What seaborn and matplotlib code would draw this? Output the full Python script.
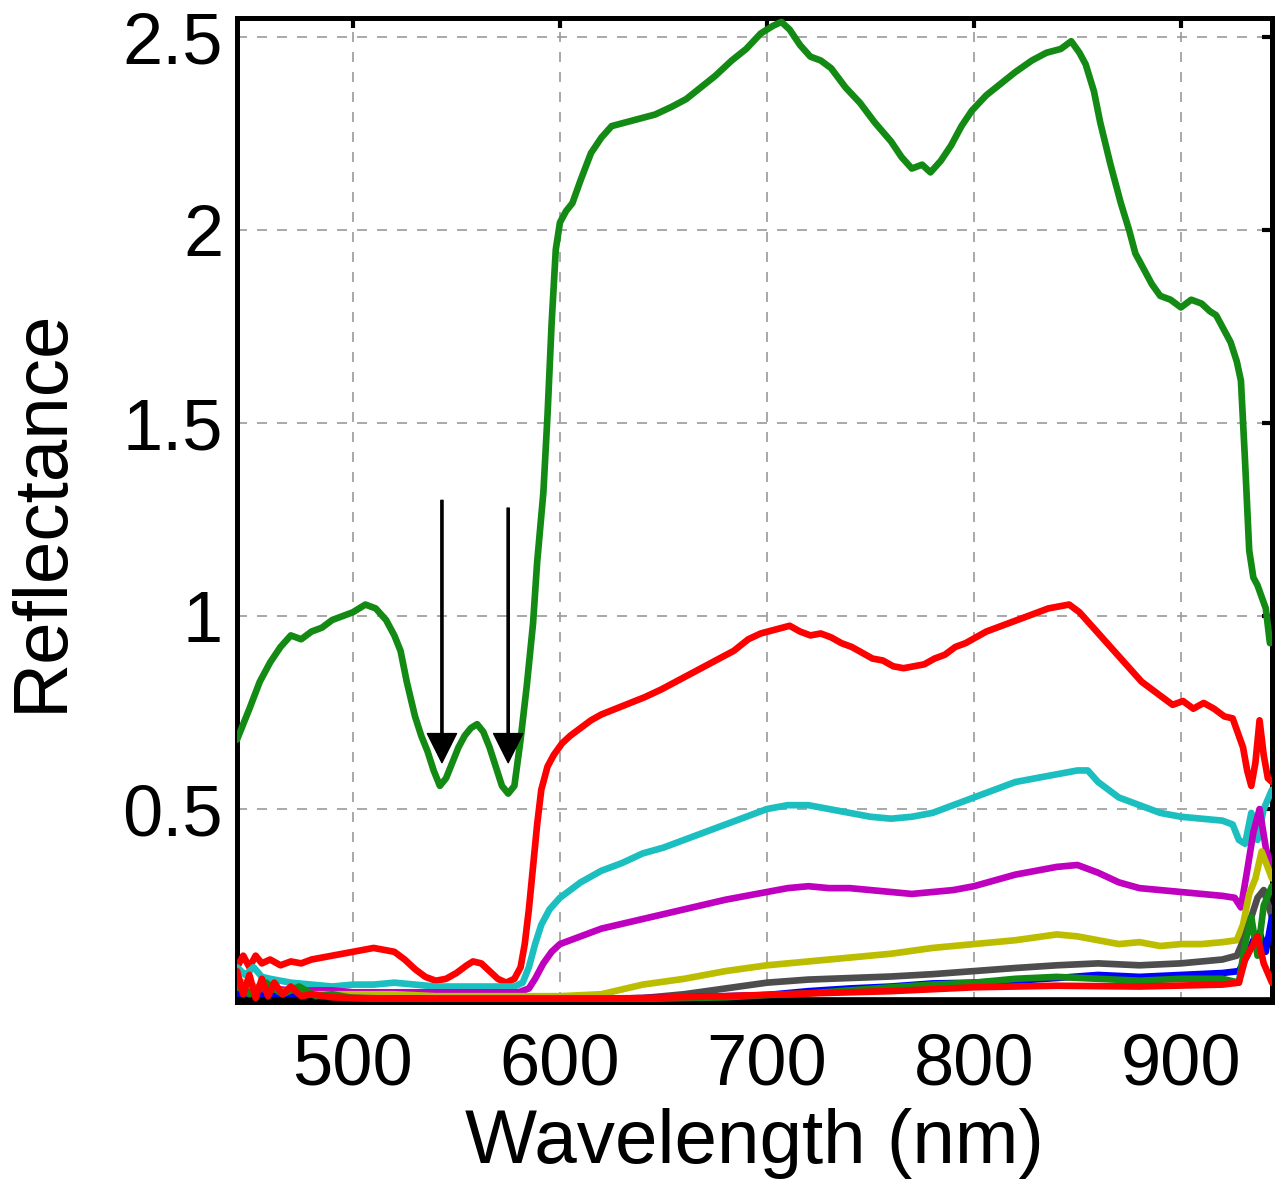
import matplotlib
matplotlib.use("Agg")
import matplotlib.pyplot as plt
import seaborn as sns

# ---- data (wavelength in nm, reflectance) ----
wl_green = [444, 450, 455, 460, 465, 470, 475, 480, 485, 490, 495, 500, 506, 511, 516, 520,
            523, 526, 530, 533, 536, 539, 542, 545, 548, 551, 554, 557, 560, 563, 566, 569,
            572, 575, 578, 581, 584, 587, 589, 592, 594, 596, 598, 600, 603, 606, 610, 615,
            620, 625, 632, 639, 646, 654, 661, 668, 675, 683, 690, 697, 703, 707, 711, 716,
            721, 726, 731, 738, 745, 752, 760, 765, 770, 775, 779, 784, 789, 794, 799, 806,
            813, 820, 828, 835, 842, 847, 851, 854, 858, 861, 866, 871, 875, 878, 882, 886,
            890, 895, 900, 905, 910, 914, 917, 921, 924, 927, 929, 931, 933, 935, 937, 939,
            941, 943]
refl_green = [0.68, 0.76, 0.83, 0.88, 0.92, 0.95, 0.94, 0.96, 0.97, 0.99, 1.00, 1.01, 1.03, 1.02, 0.99, 0.95,
              0.91, 0.83, 0.74, 0.69, 0.65, 0.60, 0.56, 0.58, 0.62, 0.66, 0.69, 0.71, 0.72, 0.70, 0.66, 0.61,
              0.56, 0.54, 0.56, 0.68, 0.82, 0.98, 1.14, 1.32, 1.52, 1.76, 1.95, 2.02, 2.05, 2.07, 2.13, 2.20,
              2.24, 2.27, 2.28, 2.29, 2.30, 2.32, 2.34, 2.37, 2.40, 2.44, 2.47, 2.51, 2.53, 2.54, 2.52, 2.48,
              2.45, 2.44, 2.42, 2.37, 2.33, 2.28, 2.23, 2.19, 2.16, 2.17, 2.15, 2.18, 2.22, 2.27, 2.31, 2.35,
              2.38, 2.41, 2.44, 2.46, 2.47, 2.49, 2.46, 2.43, 2.36, 2.28, 2.17, 2.07, 2.00, 1.94, 1.90, 1.86,
              1.83, 1.82, 1.80, 1.82, 1.81, 1.79, 1.78, 1.74, 1.71, 1.66, 1.61, 1.40, 1.17, 1.10, 1.08, 1.05,
              1.02, 0.93]

wl_red = [444, 447, 450, 453, 456, 460, 465, 470, 475, 480, 485, 490, 495, 500, 505, 510, 515, 520,
          525, 530, 535, 540, 545, 550, 555, 558, 562, 566, 570, 574, 578, 581, 583, 585, 587, 589,
          591, 594, 597, 601, 605, 610, 615, 620, 627, 634, 641, 649, 656, 663, 670, 677, 684, 691,
          697, 704, 711, 716, 721, 726, 731, 736, 741, 746, 751, 756, 761, 766, 771, 776, 781, 786,
          791, 796, 801, 806, 811, 816, 821, 826, 831, 836, 841, 846, 851, 856, 861, 866, 871, 876,
          881, 886, 891, 896, 901, 906, 911, 916, 921, 925, 928, 930, 932, 934, 936, 938, 940, 942, 944]
refl_red = [0.09, 0.12, 0.09, 0.12, 0.10, 0.11, 0.095, 0.105, 0.10, 0.11, 0.115, 0.12, 0.125, 0.13, 0.135, 0.14, 0.135, 0.13,
            0.11, 0.085, 0.065, 0.055, 0.06, 0.075, 0.095, 0.105, 0.10, 0.08, 0.06, 0.05, 0.06, 0.09, 0.15, 0.24, 0.35, 0.46,
            0.55, 0.61, 0.64, 0.67, 0.69, 0.71, 0.73, 0.745, 0.76, 0.775, 0.79, 0.81, 0.83, 0.85, 0.87, 0.89, 0.91, 0.94,
            0.955, 0.965, 0.975, 0.96, 0.95, 0.955, 0.945, 0.93, 0.92, 0.905, 0.89, 0.885, 0.87, 0.865, 0.87, 0.875, 0.89, 0.90,
            0.92, 0.93, 0.945, 0.96, 0.97, 0.98, 0.99, 1.00, 1.01, 1.02, 1.025, 1.03, 1.01, 0.98, 0.95, 0.92, 0.89, 0.86,
            0.83, 0.81, 0.79, 0.77, 0.78, 0.76, 0.775, 0.76, 0.74, 0.735, 0.69, 0.66, 0.60, 0.56, 0.62, 0.73, 0.64, 0.58, 0.57]

wl_cyan = [444, 448, 452, 456, 460, 470, 480, 490, 500, 510, 520, 530, 540, 550, 560, 570, 578, 582,
           585, 588, 591, 595, 600, 605, 610, 620, 630, 640, 650, 660, 670, 680, 690, 700, 710, 720,
           730, 740, 750, 760, 770, 780, 790, 800, 810, 820, 830, 840, 850, 855, 860, 870, 880, 890,
           900, 910, 920, 925, 928, 931, 934, 937, 940, 944]
refl_cyan = [0.09, 0.07, 0.09, 0.065, 0.06, 0.05, 0.045, 0.04, 0.045, 0.045, 0.05, 0.045, 0.04, 0.04, 0.04, 0.04, 0.04, 0.05,
             0.09, 0.15, 0.20, 0.24, 0.27, 0.29, 0.31, 0.34, 0.36, 0.385, 0.40, 0.42, 0.44, 0.46, 0.48, 0.50, 0.51, 0.51,
             0.50, 0.49, 0.48, 0.475, 0.48, 0.49, 0.51, 0.53, 0.55, 0.57, 0.58, 0.59, 0.60, 0.60, 0.57, 0.53, 0.51, 0.49,
             0.48, 0.475, 0.47, 0.46, 0.42, 0.41, 0.49, 0.42, 0.50, 0.55]

wl_magenta = [444, 450, 460, 470, 480, 490, 500, 520, 540, 560, 570, 580, 585, 588, 592, 596, 600, 610,
              620, 640, 660, 680, 700, 710, 720, 730, 740, 750, 760, 770, 780, 790, 800, 810, 820, 830,
              840, 850, 860, 870, 880, 890, 900, 910, 920, 926, 929, 932, 935, 938, 941, 944]
refl_magenta = [0.045, 0.04, 0.035, 0.03, 0.03, 0.03, 0.025, 0.025, 0.025, 0.025, 0.025, 0.025, 0.035, 0.06, 0.10, 0.13, 0.15, 0.17,
                0.19, 0.215, 0.24, 0.265, 0.285, 0.295, 0.30, 0.295, 0.295, 0.29, 0.285, 0.28, 0.285, 0.29, 0.30, 0.315, 0.33, 0.34,
                0.35, 0.355, 0.335, 0.31, 0.295, 0.29, 0.285, 0.28, 0.275, 0.27, 0.245, 0.34, 0.44, 0.50, 0.40, 0.34]

wl_olive = [444, 450, 460, 470, 480, 500, 520, 540, 560, 580, 600, 620, 640, 660, 680, 700, 720, 740,
            760, 780, 800, 820, 840, 850, 860, 870, 880, 890, 900, 910, 920, 927, 930, 933, 936, 939, 944]
refl_olive = [0.06, 0.04, 0.03, 0.025, 0.02, 0.02, 0.02, 0.015, 0.015, 0.015, 0.015, 0.02, 0.045, 0.06, 0.08, 0.095, 0.105, 0.115,
              0.125, 0.14, 0.15, 0.16, 0.175, 0.17, 0.16, 0.15, 0.155, 0.145, 0.15, 0.15, 0.155, 0.16, 0.20, 0.28, 0.32, 0.39, 0.32]

wl_gray = [444, 460, 480, 500, 540, 580, 620, 640, 660, 680, 700, 720, 740, 760, 780, 800, 820, 840,
           860, 880, 900, 920, 927, 931, 934, 937, 940, 944]
refl_gray = [0.03, 0.02, 0.015, 0.01, 0.008, 0.008, 0.008, 0.01, 0.02, 0.035, 0.05, 0.058, 0.062, 0.066, 0.072, 0.08, 0.088, 0.095,
             0.10, 0.095, 0.10, 0.11, 0.12, 0.17, 0.22, 0.27, 0.29, 0.22]

wl_blue = [444, 460, 480, 500, 540, 580, 620, 660, 700, 720, 740, 760, 780, 800, 820, 840, 860, 880,
           900, 920, 928, 932, 935, 938, 941, 944]
refl_blue = [0.02, 0.015, 0.012, 0.01, 0.008, 0.008, 0.008, 0.012, 0.018, 0.028, 0.035, 0.04, 0.048, 0.05, 0.055, 0.062, 0.07, 0.065,
             0.07, 0.075, 0.08, 0.12, 0.16, 0.18, 0.13, 0.22]

wl_green2 = [444, 450, 458, 466, 474, 482, 490, 500, 520, 560, 600, 640, 680, 700, 720, 740, 760, 780,
             800, 820, 840, 860, 880, 900, 920, 928, 931, 934, 937, 940, 944]
refl_green2 = [0.04, 0.02, 0.05, 0.02, 0.04, 0.015, 0.02, 0.01, 0.008, 0.005, 0.005, 0.008, 0.012, 0.018, 0.022, 0.03, 0.038, 0.045,
               0.05, 0.06, 0.065, 0.06, 0.055, 0.06, 0.06, 0.05, 0.15, 0.22, 0.12, 0.25, 0.30]

wl_red2 = [444, 447, 450, 453, 456, 459, 462, 466, 470, 475, 480, 490, 500, 520, 540, 560, 600, 640,
           680, 720, 760, 800, 840, 880, 920, 928, 931, 934, 937, 940, 944]
refl_red2 = [0.08, 0.02, 0.07, 0.01, 0.06, 0.015, 0.05, 0.02, 0.04, 0.015, 0.02, 0.012, 0.01, 0.008, 0.008, 0.008, 0.008, 0.01,
             0.015, 0.022, 0.028, 0.038, 0.042, 0.04, 0.045, 0.05, 0.11, 0.14, 0.17, 0.10, 0.05]

wl_black = [444, 944]
refl_black = [0.004, 0.004]

# arrows marking the two absorption dips
arrow_x = [543, 575]
arrow_top = [1.30, 1.28]
arrow_tip = [0.62, 0.62]

series = [
    (wl_green, refl_green, "#138a13"),
    (wl_red, refl_red, "#ff0000"),
    (wl_cyan, refl_cyan, "#1cbfbf"),
    (wl_magenta, refl_magenta, "#bf00bf"),
    (wl_olive, refl_olive, "#bdbd00"),
    (wl_gray, refl_gray, "#4d4d4d"),
    (wl_blue, refl_blue, "#0000ff"),
    (wl_black, refl_black, "#000000"),
    (wl_green2, refl_green2, "#138a13"),
    (wl_red2, refl_red2, "#ff0000"),
]

sns.set_theme(style="white")
plt.rcParams["font.family"] = ["Liberation Sans", "DejaVu Sans"]
plt.rcParams["text.color"] = "black"
plt.rcParams["axes.labelcolor"] = "black"

fig = plt.figure(figsize=(12.86, 11.88), dpi=100)
ax = fig.add_axes([0.1843, 0.1566, 0.8048, 0.8282])

for wl, refl, col in series:
    sns.lineplot(x=wl, y=refl, color=col, linewidth=4.8, ax=ax, zorder=3)

for xa, yt, yb in zip(arrow_x, arrow_top, arrow_tip):
    ax.annotate("", xy=(xa, yb), xytext=(xa, yt),
                arrowprops=dict(facecolor="black", edgecolor="black", width=1.6,
                                headwidth=21, headlength=21, shrink=0),
                zorder=5)

ax.set_xlim(444, 944)
ax.set_ylim(0, 2.55)
ax.set_xticks([500, 600, 700, 800, 900])
ax.set_yticks([0.5, 1, 1.5, 2, 2.5])
ax.set_yticklabels(["0.5", "1", "1.5", "2", "2.5"])

ax.grid(True, color="#999999", linestyle=(0, (6, 6)), linewidth=1.2)
ax.set_axisbelow(True)
ax.tick_params(direction="in", length=7, width=3, top=True, right=True,
               labelsize=52, colors="black")
ax.tick_params(axis="x", pad=22)
ax.tick_params(axis="y", pad=10)
for s in ax.spines.values():
    s.set_linewidth(3.6)
    s.set_color("black")

ax.set_xlabel("Wavelength (nm)", fontsize=55, labelpad=6)
ax.set_ylabel("Reflectance", fontsize=55, labelpad=32)

fig.savefig("out.png", dpi=100)
